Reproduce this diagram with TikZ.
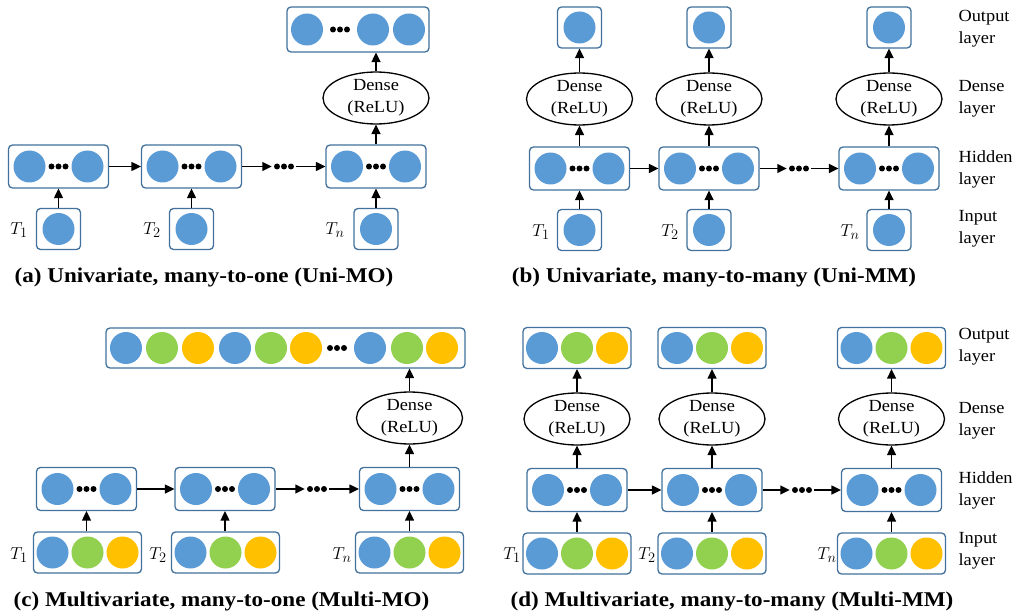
\documentclass[tikz,border=0pt]{standalone}
\usepackage{fontspec}
\setmainfont[FakeStretch=1.08]{Liberation Serif}
\newfontfamily\capfont[FakeStretch=1.1]{Liberation Serif}
\usetikzlibrary{arrows.meta,shapes.geometric}

\definecolor{nblue}{HTML}{5B9BD5}
\definecolor{ngreen}{HTML}{92D050}
\definecolor{nyellow}{HTML}{FFC000}
\definecolor{framec}{HTML}{41719C}

\tikzset{
  layerbox/.style={draw=framec, line width=1.3pt, rounded corners=4pt, fill=white, inner sep=0pt},
  neuron/.style={circle, inner sep=0pt, minimum size=32pt, fill=#1},
  dense/.style={ellipse, draw=black, line width=1.3pt, minimum width=106pt, minimum height=50pt,
    inner sep=0pt, align=center, font=\fontsize{17}{22}\selectfont},
  flow/.style={-{Triangle[length=9.5pt,width=9pt]}, line width=1.4pt},
  dotgroup/.style={inner sep=0pt, minimum width=24pt, minimum height=6pt},
  tlabel/.style={font=\fontsize{19}{22}\selectfont},
  layername/.style={anchor=west, align=left, font=\fontsize{17}{22}\selectfont},
  caption/.style={font=\capfont\bfseries\fontsize{21}{24}\selectfont},
}

% three small black dots around a point
\newcommand{\tridots}[1]{\foreach \dx in {-7,0,7} \fill ([xshift=\dx pt]#1) circle (3pt);}

% hidden layer: two neurons with dots between
\newcommand{\hidlayer}[3]{%
  \node[layerbox, minimum width=100pt, minimum height=43pt] (#1) at (#2,#3) {};
  \node[neuron=nblue] (#1-a) at ([xshift=-29pt]#1.center) {};
  \node[neuron=nblue] (#1-b) at ([xshift=29pt]#1.center) {};
  \tridots{#1.center}}

% single-neuron layer
\newcommand{\unilayer}[3]{%
  \node[layerbox, minimum width=44pt, minimum height=41pt] (#1) at (#2,#3) {};
  \node[neuron=nblue] (#1-a) at (#1.center) {};}

% three-variable layer
\newcommand{\trilayer}[3]{%
  \node[layerbox, minimum width=108pt, minimum height=41pt] (#1) at (#2,#3) {};
  \node[neuron=nblue]   (#1-a) at ([xshift=-35pt]#1.center) {};
  \node[neuron=ngreen]  (#1-b) at (#1.center) {};
  \node[neuron=nyellow] (#1-c) at ([xshift=35pt]#1.center) {};}

% chain of hidden states h1 -> h2 -> ... -> h3
\newcommand{\chain}[3]{% prefix, dots x, y
  \node[dotgroup] (#1-d) at (#2,#3) {};
  \tridots{#1-d.center}
  \draw[flow] (#1-h1.east) -- (#1-h2.west);
  \draw[flow] (#1-h2.east) -- (#1-d.west);
  \draw[flow] (#1-d.east) -- (#1-h3.west);}

\begin{document}
\begin{tikzpicture}[x=1pt, y=-1pt]
\useasboundingbox (0,0) rectangle (1026,615);

% ---------------- (a) Uni-MO ----------------
\node[layerbox, minimum width=142pt, minimum height=45pt] (a-out) at (358,29.5) {};
\node[neuron=nblue] (a-o1) at ([xshift=-51pt]a-out.center) {};
\node[neuron=nblue] (a-o2) at ([xshift=15pt]a-out.center) {};
\node[neuron=nblue] (a-o3) at ([xshift=51pt]a-out.center) {};
\coordinate (a-od) at ([xshift=-18pt]a-out.center);
\tridots{a-od}
\node[dense] (a-dn) at (376,98) {Dense\\(ReLU)};
\hidlayer{a-h1}{58.5}{166.5}
\hidlayer{a-h2}{191.5}{166.5}
\hidlayer{a-h3}{376}{166.5}
\unilayer{a-i1}{58.5}{229}
\unilayer{a-i2}{191.5}{229}
\unilayer{a-i3}{376}{229}
\chain{a}{284}{166.5}
\foreach \k in {1,2,3} \draw[flow] (a-i\k.north) -- (a-h\k.south);
\draw[flow] (a-h3.north) -- (a-dn.south);
\draw[flow] (a-dn.north) -- (a-dn.north |- a-out.south);
\node[tlabel] (a-t1) at (19,230) {$T_1$};
\node[tlabel] (a-t2) at (152,230) {$T_2$};
\node[tlabel] (a-t3) at (335,230) {$T_n$};
\node[caption] (a-cap) at (204,277) {(a) Univariate, many-to-one (Uni-MO)};

% ---------------- (b) Uni-MM ----------------
\foreach \k/\x in {1/579.5, 2/709, 3/889} {
  \unilayer{b-o\k}{\x}{27.5}
  \node[dense] (b-dn\k) at (\x,99) {Dense\\(ReLU)};
  \hidlayer{b-h\k}{\x}{168.5}
  \unilayer{b-i\k}{\x}{230}
  \draw[flow] (b-i\k.north) -- (b-h\k.south);
  \draw[flow] (b-h\k.north) -- (b-dn\k.south);
  \draw[flow] (b-dn\k.north) -- (b-o\k.south);
}
\chain{b}{799}{168.5}
\node[tlabel] (b-t1) at (541,232) {$T_1$};
\node[tlabel] (b-t2) at (670,232) {$T_2$};
\node[tlabel] (b-t3) at (850,232) {$T_n$};
\node[layername] (b-l1) at (955,29) {Output\\layer};
\node[layername] (b-l2) at (955,99) {Dense\\layer};
\node[layername] (b-l3) at (955,169.5) {Hidden\\layer};
\node[layername] (b-l4) at (955,229) {Input\\layer};
\node[caption] (b-cap) at (714,277) {(b) Univariate, many-to-many (Uni-MM)};

% ---------------- (c) Multi-MO ----------------
\node[layerbox, minimum width=359pt, minimum height=40pt] (c-out) at (285.5,348) {};
\foreach \dx/\col [count=\n] in {-159.5/nblue, -123.5/ngreen, -87.5/nyellow,
    -50.5/nblue, -14.5/ngreen, 20.5/nyellow, 84.5/nblue, 121.5/ngreen, 156.5/nyellow}
  \node[neuron=\col] (c-o\n) at ([xshift=\dx pt]c-out.center) {};
\coordinate (c-od) at ([xshift=51.5pt]c-out.center);
\tridots{c-od}
\node[dense] (c-dn) at (409.5,418) {Dense\\(ReLU)};
\hidlayer{c-h1}{86.5}{489}
\hidlayer{c-h2}{225}{489}
\hidlayer{c-h3}{409.5}{489}
\trilayer{c-i1}{87.5}{552.5}
\trilayer{c-i2}{225.5}{552.5}
\trilayer{c-i3}{409.5}{552.5}
\chain{c}{317}{489}
\foreach \k in {1,2,3} \draw[flow] (c-h\k.south |- c-i\k.north) -- (c-h\k.south);
\draw[flow] (c-h3.north) -- (c-dn.south);
\draw[flow] (c-dn.north) -- (c-dn.north |- c-out.south);
\node[tlabel] (c-t1) at (19,555) {$T_1$};
\node[tlabel] (c-t2) at (158,555) {$T_2$};
\node[tlabel] (c-t3) at (342,555) {$T_n$};
\node[caption] (c-cap) at (221.5,601) {(c) Multivariate, many-to-one (Multi-MO)};

% ---------------- (d) Multi-MM ----------------
\foreach \k/\x in {1/577, 2/712, 3/891.5} {
  \trilayer{d-o\k}{\x}{348}
  \node[dense] (d-dn\k) at (\x,419) {Dense\\(ReLU)};
  \hidlayer{d-h\k}{\x}{490}
  \trilayer{d-i\k}{\x}{553.5}
  \draw[flow] (d-i\k.north) -- (d-h\k.south);
  \draw[flow] (d-h\k.north) -- (d-dn\k.south);
  \draw[flow] (d-dn\k.north) -- (d-o\k.south);
}
\chain{d}{802}{490}
\node[tlabel] (d-t1) at (512,555) {$T_1$};
\node[tlabel] (d-t2) at (647,555) {$T_2$};
\node[tlabel] (d-t3) at (827,555) {$T_n$};
\node[layername] (d-l1) at (955,347) {Output\\layer};
\node[layername] (d-l2) at (955,421) {Dense\\layer};
\node[layername] (d-l3) at (955,490.5) {Hidden\\layer};
\node[layername] (d-l4) at (955,550.5) {Input\\layer};
\node[caption] (d-cap) at (732,601) {(d) Multivariate, many-to-many (Multi-MM)};
\end{tikzpicture}
\end{document}
